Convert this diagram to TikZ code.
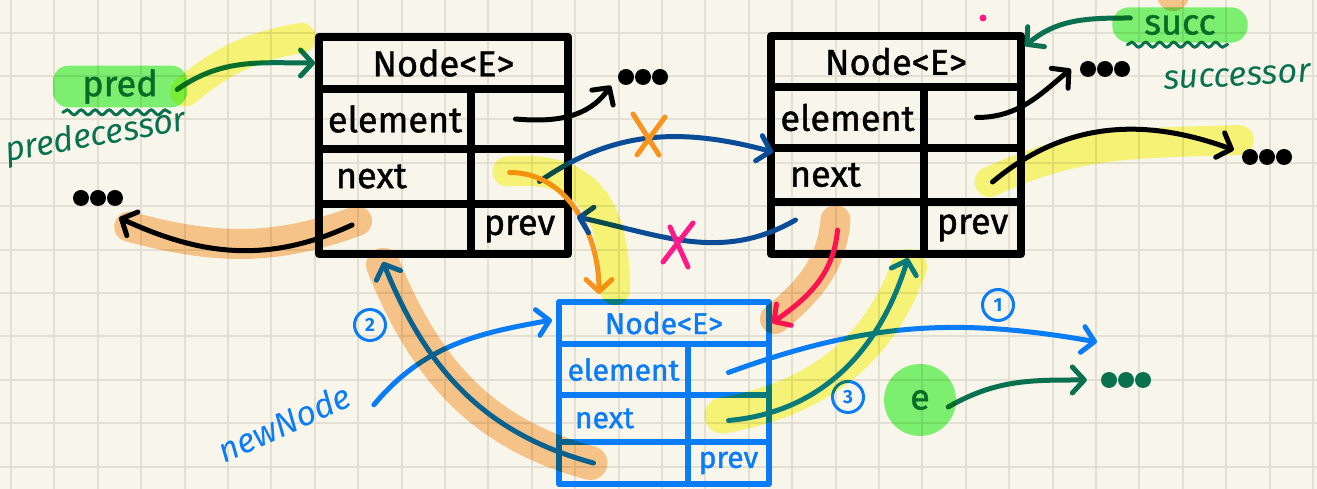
\documentclass[tikz,border=0pt]{standalone}
\usepackage{fontspec}
\setmainfont{Fira Sans}
\newfontfamily\boxfont{Fira Sans}[FakeBold=1.2]
\usetikzlibrary{arrows.meta,decorations.pathmorphing}

\definecolor{paper}{HTML}{F8F6EB}
\definecolor{gridc}{HTML}{E3E0D3}
\definecolor{bblue}{HTML}{0A7CF5}
\definecolor{navy}{HTML}{0B4C96}
\definecolor{dkgreen}{HTML}{0A7150}
\definecolor{orng}{HTML}{F7941D}
\definecolor{pinkc}{HTML}{FF1A8A}
\definecolor{hly}{HTML}{FCFB80}
\definecolor{hlo}{HTML}{FCCB94}
\definecolor{hlg}{HTML}{80F87A}

\newcommand\bigfont{\boxfont\fontsize{36}{40}\selectfont}
\newcommand\smallfont{\boxfont\fontsize{30}{34}\selectfont}
\newcommand\labfont{\boxfont\fontsize{36}{40}\selectfont}
\newcommand\handfont{\fontsize{34}{38}\selectfont\itshape}

\tikzset{
    cellk/.style 2 args={draw, line width=8pt, line join=round, minimum width=#1,
        minimum height=#2, inner sep=1pt, font=\bigfont},
    cellb/.style 2 args={draw=bblue, text=bblue, line width=6pt, line join=round,
        minimum width=#1, minimum height=#2, inner sep=1pt, font=\smallfont},
    ptr/.style={line width=5pt, line cap=round,
        -{Straight Barb[round, length=12pt, width=26pt]}},
    band/.style={draw=#1, line width=30pt, line cap=round},
    xmark/.style={draw=#1, line width=5pt, line cap=round},
    wavy/.style={dkgreen, line width=3pt, line cap=round, decorate,
        decoration={snake, amplitude=2.5pt, segment length=14pt}},
    dotrow/.style={minimum width=52pt, minimum height=17pt, inner sep=0pt,
        path picture={\foreach \k in {-1,0,1}
            \fill[#1] ([xshift=\k*17pt]path picture bounding box.center) circle (8pt);}},
    num/.style={circle, draw=bblue, text=bblue, line width=3pt, minimum size=31pt,
        inner sep=0pt, font=\fontsize{19}{19}\selectfont\bfseries}
}

\begin{document}
\begin{tikzpicture}[x=1pt, y=1pt]

        \useasboundingbox (0,0) rectangle (1317,489);
        \clip (0,0) rectangle (1317,489);

        % Paper and its grid.
        \fill[paper] (0,0) rectangle (1317,489);
        \foreach \gx in {0,...,30}
            \draw[gridc, line width=2pt] (11+43.4*\gx,0) -- (11+43.4*\gx,489);
        \foreach \gy in {0,...,10}
            \draw[gridc, line width=2pt] (0,22.4+43.4*\gy) -- (1317,22.4+43.4*\gy);

        % Cells of the first node.
        \node[cellk={249pt}{52pt}] (b1head) at (443.5,426) {Node<E>};
        \node[cellk={152pt}{60pt}] (b1elem) at (395,370) {element};
        \node[cellk={97pt}{60pt}] (b1elemv) at (519.5,370) {};
        \node[cellk={152pt}{55pt}, text width=118pt, align=left] (b1next) at (395,312.5) {next};
        \node[cellk={97pt}{55pt}] (b1nextv) at (519.5,312.5) {};
        \node[cellk={152pt}{50pt}] (b1blank) at (395,260) {};
        \node[cellk={97pt}{50pt}] (b1prev) at (519.5,260) {prev};

        % Cells of the second node.
        \node[cellk={250pt}{51pt}] (b2head) at (896,427.5) {Node<E>};
        \node[cellk={153pt}{61pt}] (b2elem) at (847.5,371.5) {element};
        \node[cellk={97pt}{61pt}] (b2elemv) at (972.5,371.5) {};
        \node[cellk={153pt}{54pt}, text width=115pt, align=left] (b2next) at (847.5,314) {next};
        \node[cellk={97pt}{54pt}] (b2nextv) at (972.5,314) {};
        \node[cellk={153pt}{52pt}] (b2blank) at (847.5,261) {};
        \node[cellk={97pt}{52pt}] (b2prev) at (972.5,261) {prev};

        % Cells of the new node.
        \node[cellb={210pt}{42pt}] (b3head) at (664,166) {Node<E>};
        \node[cellb={129pt}{51pt}] (b3elem) at (623.5,119.5) {element};
        \node[cellb={81pt}{51pt}] (b3elemv) at (728.5,119.5) {};
        \node[cellb={129pt}{47pt}, text width=97pt, align=left] (b3next) at (623.5,70.5) {next};
        \node[cellb={81pt}{47pt}] (b3nextv) at (728.5,70.5) {};
        \node[cellb={129pt}{42pt}] (b3blank) at (623.5,26) {};
        \node[cellb={81pt}{42pt}] (b3prev) at (728.5,26) {prev};

        % Labels.
        \node[text=dkgreen, font=\labfont, minimum width=134pt, minimum height=33pt] (pred) at (120,402.5) {pred};
        \node[text=dkgreen, font=\handfont, rotate=10] (predname) at (96,352) {predecessor};
        \node[text=dkgreen, font=\labfont, minimum width=135pt, minimum height=35pt] (succ) at (1180,464) {succ};
        \node[text=dkgreen, font=\handfont, rotate=3, anchor=west] (succname) at (1160,408) {successor};
        \node[text=dkgreen, font=\labfont, circle, minimum size=72pt] (e) at (920,89) {e};
        \node[text=bblue, font=\handfont, rotate=24] (newnode) at (284,66) {newNode};

        \node[dotrow=black] (dotsL) at (98,291) {};
        \node[dotrow=black] (dotsA) at (643,412) {};
        \node[dotrow=black] (dotsB) at (1105,420) {};
        \node[dotrow=black] (dotsC) at (1267,332) {};
        \node[dotrow=dkgreen] (dotsG) at (1126,109) {};

        \node[num] (one) at (998,184) {1};
        \node[num] (two) at (370,164) {2};
        \node[num] (three) at (848,92) {3};

        \fill[pinkc] (983,471) circle (3.5pt);
        \draw[wavy] ([shift={(10pt,-5pt)}]pred.south west) -- ([shift={(-17pt,-5pt)}]pred.south east);
        \draw[wavy] ([shift={(15pt,-2pt)}]succ.south west) -- ([shift={(-20pt,-2pt)}]succ.south east);

        \coordinate (elemend) at (1097,147);
        \coordinate (xo) at (650,354);
        \coordinate (xp) at (678,245);

        % Pointers of the first node.
        \draw[ptr, dkgreen] ([shift={(-10pt,-3pt)}]pred.east) to[out=35, in=180] (b1head.west);
        \draw[ptr] ([shift={(-43pt,4pt)}]b1blank.center) to[out=205, in=-25] ([shift={(-5pt,-11pt)}]dotsL.south east);
        \draw[ptr] ([xshift=-4pt]b1elemv.center) to[out=-5, in=-125] ([xshift=-6pt]dotsA.south west);
        \draw[ptr, navy] ([shift={(20pt,-5pt)}]b1nextv.center) to[out=35, in=165] ([xshift=6pt]b2elem.south west);
        \draw[ptr, orng] ([shift={(-10pt,4pt)}]b1nextv.center) to[out=0, in=90] ([shift={(43pt,5pt)}]b3head.north west);

        % Pointers of the second node.
        \draw[ptr, navy] ([shift={(-52pt,8pt)}]b2blank.center) to[out=210, in=-12] ([shift={(5pt,12pt)}]b1prev.east);
        \draw[ptr] ([xshift=4pt]b2elemv.center) to[out=0, in=-140] ([xshift=-8pt]dotsB.west);
        \draw[ptr] ([shift={(20pt,-7pt)}]b2nextv.center) to[out=40, in=160] ([shift={(-7pt,7pt)}]dotsC.west);
        \draw[ptr, pinkc] ([shift={(-10pt,-2pt)}]b2blank.center) to[out=-95, in=35] (b3head.east);
        \draw[ptr, dkgreen] ([shift={(18pt,7pt)}]succ.west) to[out=180, in=40] ([yshift=-14pt]b2head.north east);

        % Pointers of the new node.
        \draw[ptr, bblue] ([yshift=-3pt]b3elemv.center) to[out=20, in=170] (elemend);
        \draw[ptr, bblue] ([yshift=-2pt]b3nextv.center) to[out=5, in=-107] ([xshift=-20pt]b2blank.south east);
        \draw[ptr, bblue] ([xshift=-30pt]b3blank.center) to[out=165, in=-68] ([shift={(-12pt,-4pt)}]b1blank.south);
        \draw[ptr, bblue] ([shift={(22pt,-12pt)}]newnode.east) to[out=50, in=190] ([shift={(-4pt,3pt)}]b3head.west);
        \draw[ptr, dkgreen] ([shift={(-8pt,-7pt)}]e.east) to[out=30, in=180] ([xshift=-13pt]dotsG.west);

        % Crossed out links.
        \draw[xmark=orng] (xo) +(-17,21) -- +(9,-20) (xo) +(15,18) -- +(-13,-20);
        \draw[xmark=pinkc] (xp) +(-8,17) -- +(10,-23) (xp) +(15,21) -- +(-15,-18);

        % Marker strokes on top.
        \begin{scope}[blend mode=multiply]
            \draw[band=hly] ([shift={(-2pt,-5pt)}]pred.east) to[out=40, in=190] ([shift={(-14pt,-5pt)}]b1head.north west);
            \draw[band=hlo] ([shift={(-38pt,8pt)}]b1blank.center) to[out=200, in=-15] ([shift={(5pt,-20pt)}]dotsL.south east);
            \draw[band=hly] ([shift={(-12pt,5pt)}]b1nextv.center) to[out=5, in=90, looseness=1.3] ([shift={(59pt,9pt)}]b3head.north west);
            \draw[band=hly] ([shift={(17pt,-7pt)}]b2nextv.center) to[out=25, in=182] ([shift={(-2pt,17pt)}]dotsC.west);
            \draw[band=hlo] ([shift={(-12pt,8pt)}]b2blank.center) to[out=-95, in=40] ([shift={(3pt,4pt)}]b3head.east);
            \draw[band=hly, line width=36pt] ([shift={(-6pt,3pt)}]b3nextv.center) to[out=10, in=-110] ([shift={(-19pt,-9pt)}]b2blank.south east);
            \draw[band=hlo, line width=34pt] ([xshift=-33pt]b3blank.center) to[out=165, in=-68] ([shift={(-12pt,-7pt)}]b1blank.south);
            \fill[hlg, rounded corners=16pt] (pred.south west) rectangle (pred.north east);
            \fill[hlg, rounded corners=17pt] (succ.south west) rectangle (succ.north east);
            \fill[hlg] (e) circle (36pt);
            \fill[hlo] (1173,494) circle (16pt);
        \end{scope}
    \end{tikzpicture}
\end{document}
